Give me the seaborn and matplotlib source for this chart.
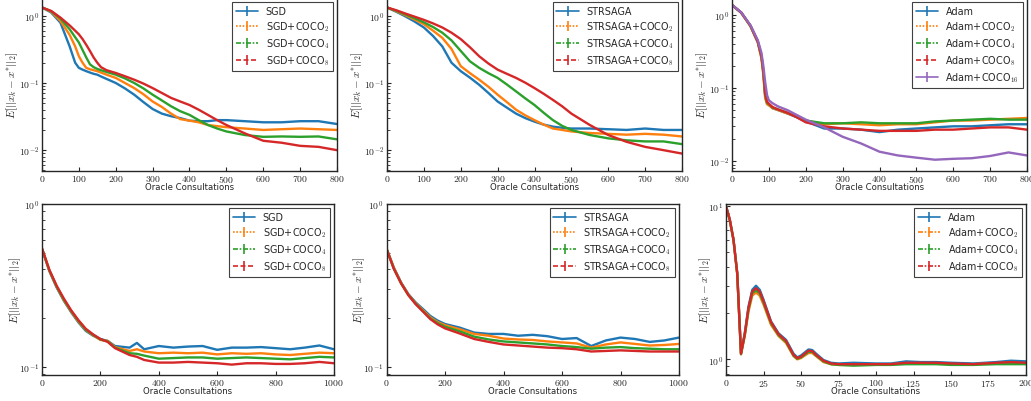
import numpy as np
import pandas as pd
import matplotlib
matplotlib.use("Agg")
import matplotlib.pyplot as plt
from matplotlib.ticker import FuncFormatter, NullFormatter, LogLocator, FixedLocator
import seaborn as sns

# ---------------- data ----------------
# Panel 1: SGD, 800 consultations
p1_x = [0, 25, 50, 75, 90, 100, 110, 120, 130, 140, 150, 160, 175, 200, 225, 250, 275, 300,
        325, 350, 375, 400, 425, 450, 475, 500, 550, 600, 650, 700, 750, 800]
p1_sgd = [1.33, 1.12, 0.79, 0.35, 0.20, 0.168, 0.158, 0.150, 0.143, 0.137, 0.133, 0.125, 0.115,
          0.100, 0.083, 0.067, 0.052, 0.041, 0.035, 0.032, 0.030, 0.0275, 0.027, 0.027, 0.028,
          0.028, 0.027, 0.026, 0.026, 0.027, 0.027, 0.0245]
p1_coco2 = [1.33, 1.15, 0.84, 0.52, 0.35, 0.25, 0.20, 0.168, 0.160, 0.155, 0.150, 0.143, 0.133,
            0.119, 0.100, 0.084, 0.068, 0.053, 0.044, 0.035, 0.029, 0.0275, 0.026, 0.0237, 0.0228,
            0.022, 0.021, 0.020, 0.0205, 0.021, 0.0205, 0.020]
p1_coco4 = [1.33, 1.17, 0.91, 0.63, 0.48, 0.40, 0.31, 0.24, 0.19, 0.172, 0.162, 0.155, 0.146,
            0.133, 0.117, 0.100, 0.083, 0.067, 0.055, 0.045, 0.038, 0.0335, 0.028, 0.0237, 0.021,
            0.019, 0.0168, 0.0158, 0.0160, 0.0158, 0.0160, 0.0145]
p1_coco8 = [1.33, 1.18, 0.94, 0.72, 0.60, 0.53, 0.45, 0.37, 0.30, 0.24, 0.20, 0.172, 0.155,
            0.141, 0.126, 0.112, 0.098, 0.084, 0.071, 0.060, 0.053, 0.047, 0.040, 0.0335, 0.028,
            0.0237, 0.0178, 0.0138, 0.0129, 0.0116, 0.0112, 0.0100]

# Panel 2: STRSAGA, 800 consultations
p2_x = [0, 25, 50, 75, 100, 125, 150, 175, 200, 225, 250, 275, 300, 325, 350, 375, 400, 425,
        450, 475, 500, 550, 600, 650, 700, 750, 800]
p2_str = [1.33, 1.15, 0.98, 0.82, 0.67, 0.50, 0.35, 0.20, 0.15, 0.12, 0.094, 0.071, 0.053, 0.043,
          0.035, 0.030, 0.0266, 0.024, 0.0224, 0.0215, 0.021, 0.021, 0.0205, 0.020, 0.021, 0.020,
          0.020]
p2_coco2 = [1.33, 1.17, 1.02, 0.88, 0.75, 0.60, 0.47, 0.32, 0.178, 0.14, 0.112, 0.088, 0.067,
            0.052, 0.040, 0.033, 0.028, 0.024, 0.021, 0.020, 0.019, 0.018, 0.0175, 0.017, 0.0175,
            0.017, 0.016]
p2_coco4 = [1.33, 1.19, 1.05, 0.92, 0.80, 0.68, 0.56, 0.43, 0.30, 0.21, 0.168, 0.140, 0.119,
            0.095, 0.075, 0.059, 0.047, 0.036, 0.028, 0.023, 0.020, 0.0168, 0.015, 0.014, 0.0135,
            0.0135, 0.0123]
p2_coco8 = [1.33, 1.21, 1.08, 0.97, 0.87, 0.77, 0.67, 0.56, 0.45, 0.34, 0.25, 0.195, 0.158,
            0.137, 0.119, 0.101, 0.084, 0.069, 0.056, 0.045, 0.035, 0.0237, 0.0168, 0.0133,
            0.0112, 0.0100, 0.0089]

# Panel 3: Adam, 800 consultations
p3_x = [0, 25, 50, 70, 80, 85, 90, 95, 100, 110, 125, 150, 175, 200, 250, 300, 350, 400, 450,
        500, 550, 600, 650, 700, 750, 800]
p3_adam = [1.36, 1.07, 0.70, 0.42, 0.26, 0.16, 0.077, 0.062, 0.059, 0.053, 0.050, 0.045, 0.040,
           0.035, 0.028, 0.028, 0.027, 0.025, 0.027, 0.028, 0.029, 0.030, 0.030, 0.031, 0.032,
           0.032]
p3_coco2 = [1.36, 1.07, 0.70, 0.42, 0.25, 0.15, 0.072, 0.060, 0.058, 0.053, 0.050, 0.045, 0.041,
            0.036, 0.032, 0.033, 0.032, 0.031, 0.032, 0.032, 0.034, 0.036, 0.036, 0.037, 0.038,
            0.039]
p3_coco4 = [1.36, 1.07, 0.71, 0.43, 0.27, 0.17, 0.080, 0.063, 0.060, 0.054, 0.051, 0.046, 0.041,
            0.036, 0.033, 0.033, 0.034, 0.033, 0.033, 0.033, 0.035, 0.036, 0.037, 0.038, 0.037,
            0.037]
p3_coco8 = [1.36, 1.07, 0.71, 0.43, 0.27, 0.17, 0.085, 0.065, 0.061, 0.055, 0.051, 0.046, 0.040,
            0.034, 0.030, 0.028, 0.027, 0.026, 0.026, 0.026, 0.027, 0.027, 0.028, 0.029, 0.029,
            0.027]
p3_coco16 = [1.36, 1.08, 0.72, 0.45, 0.30, 0.20, 0.12, 0.080, 0.068, 0.062, 0.056, 0.050, 0.043,
             0.037, 0.029, 0.0216, 0.0175, 0.0135, 0.012, 0.0112, 0.0105, 0.0108, 0.011, 0.0118,
             0.0132, 0.0120]

# Panel 4: SGD, 1000 consultations
p4_x = [0, 25, 50, 75, 100, 125, 150, 175, 200, 225, 250, 300, 325, 350, 400, 450, 500, 550,
        600, 650, 700, 750, 800, 850, 900, 950, 1000]
p4_sgd = [0.527, 0.388, 0.307, 0.254, 0.216, 0.187, 0.166, 0.155, 0.148, 0.144, 0.134, 0.131,
          0.140, 0.128, 0.134, 0.131, 0.133, 0.134, 0.127, 0.131, 0.131, 0.132, 0.130, 0.128,
          0.131, 0.135, 0.128]
p4_coco2 = [0.53, 0.39, 0.31, 0.256, 0.218, 0.189, 0.168, 0.156, 0.146, 0.144, 0.132, 0.125,
            0.128, 0.124, 0.121, 0.122, 0.121, 0.122, 0.119, 0.121, 0.120, 0.121, 0.119, 0.118,
            0.120, 0.122, 0.121]
p4_coco4 = [0.53, 0.392, 0.312, 0.258, 0.220, 0.191, 0.169, 0.157, 0.147, 0.143, 0.131, 0.121,
            0.120, 0.117, 0.112, 0.113, 0.114, 0.114, 0.112, 0.113, 0.114, 0.113, 0.112, 0.111,
            0.113, 0.115, 0.114]
p4_coco8 = [0.535, 0.395, 0.315, 0.262, 0.222, 0.193, 0.171, 0.158, 0.148, 0.142, 0.130, 0.118,
            0.115, 0.110, 0.106, 0.106, 0.107, 0.106, 0.105, 0.103, 0.105, 0.105, 0.104, 0.104,
            0.105, 0.107, 0.105]

# Panel 5: STRSAGA, 1000 consultations
p5_x = [0, 25, 50, 75, 100, 125, 150, 175, 200, 250, 300, 350, 400, 450, 500, 550, 600, 650,
        700, 750, 800, 850, 900, 950, 1000]
p5_str = [0.532, 0.407, 0.329, 0.279, 0.248, 0.226, 0.205, 0.192, 0.183, 0.174, 0.162, 0.159,
          0.159, 0.155, 0.157, 0.154, 0.148, 0.150, 0.134, 0.145, 0.151, 0.148, 0.142, 0.145,
          0.151]
p5_coco2 = [0.532, 0.405, 0.327, 0.277, 0.245, 0.222, 0.201, 0.188, 0.180, 0.170, 0.159, 0.155,
            0.149, 0.147, 0.146, 0.143, 0.141, 0.139, 0.131, 0.137, 0.141, 0.138, 0.135, 0.136,
            0.138]
p5_coco4 = [0.53, 0.40, 0.325, 0.275, 0.243, 0.219, 0.198, 0.185, 0.176, 0.165, 0.153, 0.147,
            0.143, 0.141, 0.139, 0.137, 0.134, 0.132, 0.129, 0.131, 0.132, 0.130, 0.129, 0.128,
            0.128]
p5_coco8 = [0.53, 0.40, 0.325, 0.275, 0.242, 0.218, 0.196, 0.182, 0.172, 0.160, 0.148, 0.142,
            0.137, 0.135, 0.133, 0.131, 0.130, 0.128, 0.124, 0.125, 0.126, 0.125, 0.124, 0.124,
            0.124]

# Panel 6: Adam, 200 consultations
p6_x = [0, 2.5, 5, 7.5, 10, 12.5, 15, 17.5, 20, 22.5, 25, 30, 35, 40, 45, 47.5, 50, 55, 57.5,
        60, 65, 70, 75, 85, 100, 110, 120, 130, 140, 150, 165, 180, 190, 200]
p6_adam = [10.0, 8.2, 6.05, 3.66, 1.10, 1.48, 2.21, 2.84, 3.02, 2.84, 2.45, 1.77, 1.48, 1.34,
           1.09, 1.03, 1.06, 1.16, 1.15, 1.09, 0.99, 0.95, 0.94, 0.95, 0.94, 0.94, 0.97, 0.96,
           0.96, 0.95, 0.94, 0.96, 0.98, 0.97]
p6_coco2 = [10.0, 8.1, 6.0, 3.6, 1.08, 1.42, 2.05, 2.60, 2.73, 2.60, 2.28, 1.68, 1.42, 1.28,
            1.05, 1.00, 1.02, 1.10, 1.10, 1.05, 0.96, 0.93, 0.92, 0.92, 0.93, 0.93, 0.94, 0.94,
            0.94, 0.93, 0.93, 0.94, 0.95, 0.94]
p6_coco4 = [10.0, 8.1, 6.0, 3.6, 1.08, 1.44, 2.12, 2.70, 2.82, 2.70, 2.35, 1.72, 1.44, 1.30,
            1.06, 1.01, 1.03, 1.12, 1.12, 1.06, 0.97, 0.93, 0.92, 0.91, 0.92, 0.92, 0.93, 0.93,
            0.93, 0.92, 0.92, 0.93, 0.93, 0.93]
p6_coco8 = [10.0, 8.15, 6.02, 3.62, 1.09, 1.46, 2.17, 2.77, 2.91, 2.77, 2.40, 1.75, 1.46, 1.32,
            1.07, 1.02, 1.04, 1.14, 1.13, 1.07, 0.98, 0.94, 0.93, 0.93, 0.93, 0.93, 0.95, 0.95,
            0.95, 0.94, 0.93, 0.95, 0.96, 0.95]

# ---------------- styling ----------------
sns.set_style("ticks")
plt.rcParams.update({
    "font.family": ["DejaVu Sans"],
    "mathtext.fontset": "cm",
    "axes.linewidth": 1.0,
    "axes.edgecolor": "0.15",
    "xtick.labelsize": 7,
    "ytick.labelsize": 7,
    "xtick.major.size": 3.0,
    "ytick.major.size": 3.0,
    "ytick.minor.size": 1.8,
    "xtick.direction": "in",
    "ytick.direction": "in",
})

colors = sns.color_palette("tab10")
C_BLUE, C_ORANGE, C_GREEN, C_RED, C_PURPLE = colors[0], colors[1], colors[2], colors[3], colors[4]
dotted = (0, (1, 1))
dashdot = (0, (3, 1, 1, 1))
dashed = (0, (3, 1.5))

fig = plt.figure(figsize=(10.31, 4.02), dpi=100)
W, H = 1031.0, 402.0


def make_ax(left, right, top, bottom):
    ax = fig.add_axes([left / W, 1 - bottom / H, (right - left) / W, (bottom - top) / H])
    ax._px = (right - left, bottom - top)
    return ax


def math_fmt(v, pos):
    return f"${v:g}$"


def log_fmt(v, pos):
    e = int(np.round(np.log10(v)))
    return f"$10^{{{e}}}$"


def panel(ax, x, series, xlim, xticks, ylim, ylab_off):
    labels = [s[0] for s in series]
    frames = []
    for lab, ys, col, ls in series:
        frames.append(pd.DataFrame({"x": x, "y": ys, "method": lab}))
    df = pd.concat(frames, ignore_index=True)
    pal = {s[0]: s[2] for s in series}
    sns.lineplot(data=df, x="x", y="y", hue="method", hue_order=labels, palette=pal,
                 legend=False, linewidth=1.7, ax=ax, estimator=None, sort=True)
    # legend proxies showing error-bar style handles
    handles = []
    for lab, ys, col, ls in series:
        h = ax.errorbar([], [], yerr=[], color=col, ls=ls, lw=1.2, elinewidth=1.2, label=lab)
        handles.append(h)
    ax.set_yscale("log")
    ax.set_xlim(*xlim)
    ax.set_ylim(*ylim)
    ax.xaxis.set_major_locator(FixedLocator(xticks))
    ax.xaxis.set_major_formatter(FuncFormatter(math_fmt))
    ax.yaxis.set_major_locator(LogLocator(base=10))
    ax.yaxis.set_major_formatter(FuncFormatter(log_fmt))
    ax.yaxis.set_minor_formatter(NullFormatter())
    wpx, hpx = ax._px
    ax.set_xlabel("Oracle Consultations", fontsize=6.1)
    ax.xaxis.set_label_coords(0.5, -11.5 / hpx)
    ax.set_ylabel(r"$E[||x_k - x^{*}||_2]$", fontsize=8)
    ax.yaxis.set_label_coords(-ylab_off / wpx, 0.5)
    ax.yaxis.label.set_va("center")
    for s in ax.spines.values():
        s.set_visible(True)
    ax.tick_params(axis="x", which="major", pad=1.5)
    ax.tick_params(axis="y", which="major", pad=2.0)
    leg = ax.legend(handles=handles, labels=labels, loc="upper right", fontsize=6.9,
                    frameon=True, fancybox=False, edgecolor="0.25", framealpha=1.0,
                    borderaxespad=0.45, handlelength=2.3, labelspacing=0.35, borderpad=0.4,
                    handletextpad=0.8)
    leg.get_frame().set_linewidth(0.8)


sub = lambda n: f"$_{{{n}}}$"

ax1 = make_ax(42, 337, -1, 172)
panel(ax1, p1_x, [("SGD", p1_sgd, C_BLUE, "-"),
                  ("SGD+COCO" + sub(2), p1_coco2, C_ORANGE, dotted),
                  ("SGD+COCO" + sub(4), p1_coco4, C_GREEN, dashdot),
                  ("SGD+COCO" + sub(8), p1_coco8, C_RED, dashed)],
      (0, 800), range(0, 801, 100), (10 ** -2.31, 10 ** 0.265), 29.5)

ax2 = make_ax(387, 682, -1, 172)
panel(ax2, p2_x, [("STRSAGA", p2_str, C_BLUE, "-"),
                  ("STRSAGA+COCO" + sub(2), p2_coco2, C_ORANGE, dotted),
                  ("STRSAGA+COCO" + sub(4), p2_coco4, C_GREEN, dashdot),
                  ("STRSAGA+COCO" + sub(8), p2_coco8, C_RED, dashed)],
      (0, 800), range(0, 801, 100), (10 ** -2.31, 10 ** 0.265), 29.5)

ax3 = make_ax(732, 1027, -1, 172)
panel(ax3, p3_x, [("Adam", p3_adam, C_BLUE, "-"),
                  ("Adam+COCO" + sub(2), p3_coco2, C_ORANGE, dotted),
                  ("Adam+COCO" + sub(4), p3_coco4, C_GREEN, dashdot),
                  ("Adam+COCO" + sub(8), p3_coco8, C_RED, dashed),
                  ("Adam+COCO" + sub(16), p3_coco16, C_PURPLE, "-")],
      (0, 800), range(0, 801, 100), (10 ** -2.133, 10 ** 0.229), 30)

ax4 = make_ax(42, 334, 205, 376)
panel(ax4, p4_x, [("SGD", p4_sgd, C_BLUE, "-"),
                  ("SGD+COCO" + sub(2), p4_coco2, C_ORANGE, dotted),
                  ("SGD+COCO" + sub(4), p4_coco4, C_GREEN, dashdot),
                  ("SGD+COCO" + sub(8), p4_coco8, C_RED, dashed)],
      (0, 1000), range(0, 1001, 200), (10 ** -1.051, 1.0), 27)

ax5 = make_ax(386.5, 679, 205, 376)
panel(ax5, p5_x, [("STRSAGA", p5_str, C_BLUE, "-"),
                  ("STRSAGA+COCO" + sub(2), p5_coco2, C_ORANGE, dotted),
                  ("STRSAGA+COCO" + sub(4), p5_coco4, C_GREEN, dashdot),
                  ("STRSAGA+COCO" + sub(8), p5_coco8, C_RED, dashed)],
      (0, 1000), range(0, 1001, 200), (10 ** -1.051, 1.0), 27)

ax6 = make_ax(726, 1026, 205, 376)
panel(ax6, p6_x, [("Adam", p6_adam, C_BLUE, "-"),
                  ("Adam+COCO" + sub(2), p6_coco2, C_ORANGE, dashdot),
                  ("Adam+COCO" + sub(4), p6_coco4, C_GREEN, dashdot),
                  ("Adam+COCO" + sub(8), p6_coco8, C_RED, dashdot)],
      (0, 200), range(0, 201, 25), (10 ** -0.102, 10 ** 1.013), 21)

fig.savefig("out.png", dpi=100)
